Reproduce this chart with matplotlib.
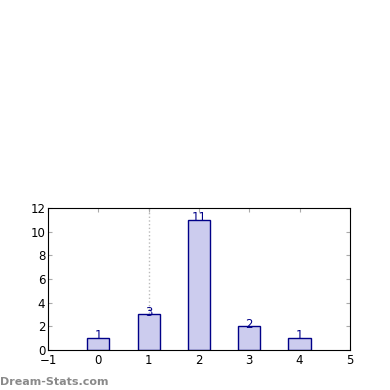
import matplotlib
matplotlib.use("Agg")
import matplotlib.pyplot as plt

values = [0, 1, 2, 3, 4]
counts = [1, 3, 11, 2, 1]
marker_x = 1
xticks = [-1, 0, 1, 2, 3, 4, 5]
yticks = [0, 2, 4, 6, 8, 10, 12]

fig = plt.figure(figsize=(3.9, 3.9), dpi=100)
ax = fig.add_axes([0.123, 0.1026, 0.774, 0.364])

ax.axvline(marker_x, color="#bbbbbb", ls=":", lw=1, zorder=1)
ax.bar(values, counts, width=0.44, color="#ccccee", edgecolor="#000088", lw=1, zorder=2)
for x, c in zip(values, counts):
    ax.text(x, c - 0.1, str(c), ha="center", va="baseline", color="#000088", fontsize=8.5, zorder=3)

ax.set_xlim(-1, 5)
ax.set_ylim(0, 12)
ax.set_xticks(xticks)
ax.set_yticks(yticks)
ax.set_xticklabels(["\u22121"] + [str(t) for t in xticks[1:]])
ax.tick_params(direction="in", length=3, color="#aaaaaa", labelsize=8.5,
               top=True, right=True)
ax.tick_params(axis="x", pad=3)
ax.tick_params(axis="y", pad=2)
for s in ax.spines.values():
    s.set_linewidth(0.8)

fig.text(0.0, 0.012, "Dream-Stats.com", color="#8a8a8a", fontsize=8, fontweight="semibold")

fig.savefig("out.png", dpi=100)
